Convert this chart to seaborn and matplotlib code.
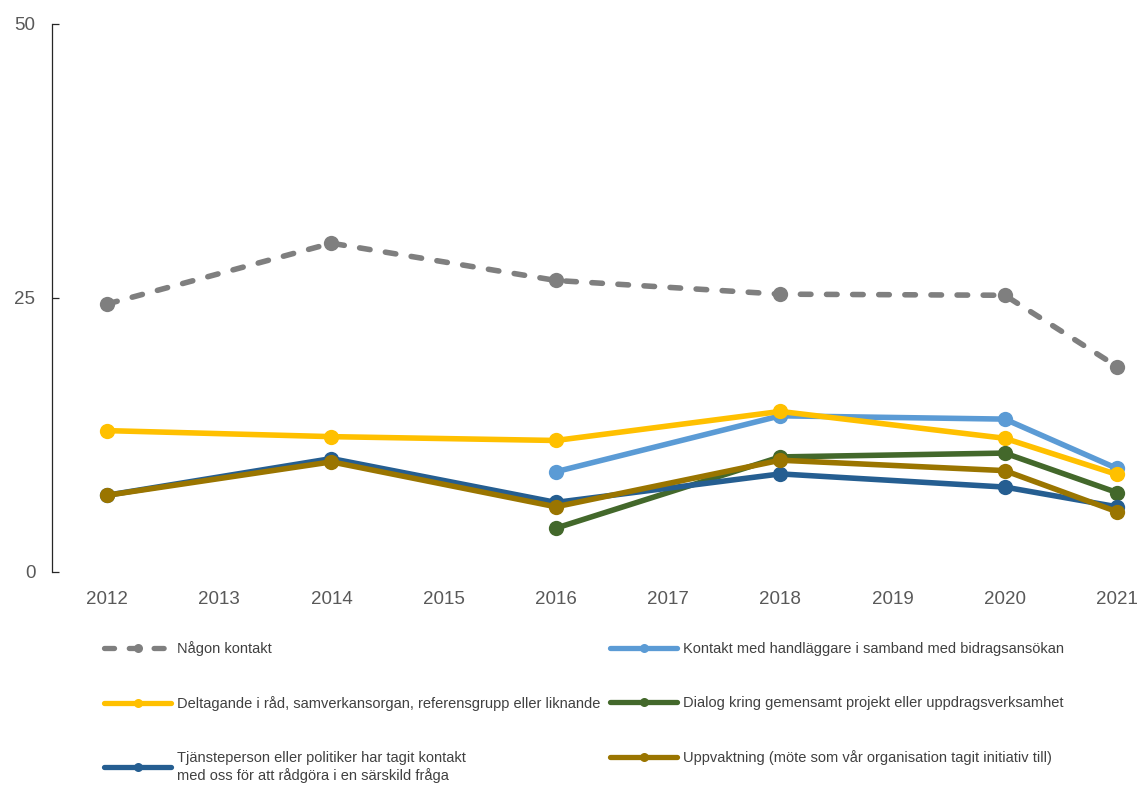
import matplotlib
matplotlib.use("Agg")
import matplotlib.pyplot as plt
from matplotlib.lines import Line2D
import seaborn as sns
import pandas as pd
import numpy as np

years = [2012, 2014, 2016, 2018, 2020, 2021]

nagon = [24.45, 30.0, 26.6, 25.35, 25.25, 18.75]
kontakt = [np.nan, np.nan, 9.15, 14.25, 13.95, 9.45]
deltagande = [12.9, 12.35, 12.0, 14.65, 12.2, 8.9]
dialog = [np.nan, np.nan, 4.0, 10.5, 10.85, 7.25]
tjanste = [7.0, 10.35, 6.35, 8.95, 7.75, 5.95]
uppvakt = [7.0, 10.05, 5.95, 10.2, 9.25, 5.5]

labels = [
    "Någon kontakt",
    "Kontakt med handläggare i samband med bidragsansökan",
    "Deltagande i råd, samverkansorgan, referensgrupp eller liknande",
    "Dialog kring gemensamt projekt eller uppdragsverksamhet",
    "Tjänsteperson eller politiker har tagit kontakt\nmed oss för att rådgöra i en särskild fråga",
    "Uppvaktning (möte som vår organisation tagit initiativ till)",
]
colors = ["#7f7f7f", "#5b9bd5", "#ffc000", "#43682b", "#255e91", "#9a7500"]
series = [nagon, kontakt, deltagande, dialog, tjanste, uppvakt]

sns.set_style("white")
plt.rcParams["font.family"] = ["Liberation Sans", "DejaVu Sans"]

fig = plt.figure(figsize=(11.4, 7.85), dpi=100)
ax = fig.add_axes([52 / 1140, 213 / 785, 1 - 52 / 1140, 548 / 785])

dash = (0, (1.9, 2.8))
handles = []
for i, (vals, lab, col) in enumerate(zip(series, labels, colors)):
    df = pd.DataFrame({"year": years, "value": vals}).dropna()
    ls = dash if i == 0 else "-"
    sns.lineplot(data=df, x="year", y="value", ax=ax, color=col, lw=4,
                 marker="o", markersize=11, markeredgewidth=0, linestyle=ls,
                 dash_capstyle="round", zorder=2 + i)
    h = Line2D([], [], color=col, lw=3.8, marker="o", markersize=6.5,
               markeredgewidth=0, linestyle=ls, dash_capstyle="round")
    handles.append(h)

ax.set_xlim(2011.51, 2021.205)
ax.set_ylim(0, 50)
ax.set_yticks([0, 25, 50])
ax.set_xticks(range(2012, 2022))
ax.set_xlabel("")
ax.set_ylabel("")
for s in ["top", "right", "bottom"]:
    ax.spines[s].set_visible(False)
ax.spines["left"].set_color("#262626")
ax.spines["left"].set_linewidth(0.9)
ax.tick_params(axis="y", left=True, direction="in", length=5, width=0.9,
               color="#262626", pad=12, labelsize=13.5, labelcolor="#595959")
ax.tick_params(axis="x", bottom=False, length=0, pad=14, labelsize=13.5,
               labelcolor="#595959")

leg_kw = dict(frameon=False, fontsize=10.5, handlelength=4.6, handletextpad=0.4,
              labelspacing=2.75, loc="upper left", labelcolor="#404040",
              borderpad=0.4)
leg1 = fig.legend([handles[0], handles[2], handles[4]],
                  [labels[0], labels[2], labels[4]],
                  bbox_to_anchor=(91 / 1140, 1 - 628 / 785), **leg_kw)
leg2 = fig.legend([handles[1], handles[3], handles[5]],
                  [labels[1], labels[3], labels[5]],
                  bbox_to_anchor=(597 / 1140, 1 - 629 / 785), **leg_kw)

fig.savefig("out.png", dpi=100)
